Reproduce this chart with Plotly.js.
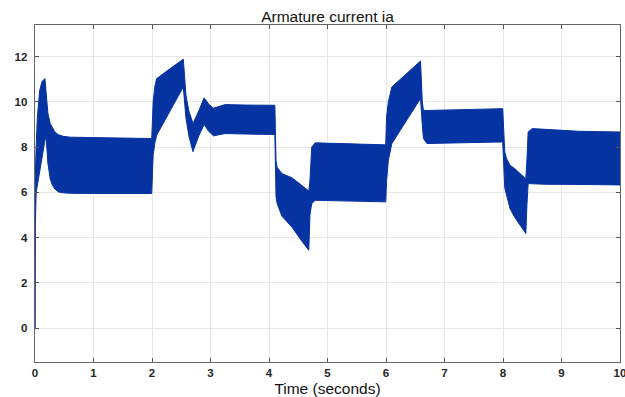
<!DOCTYPE html>
<html>
<head>
<meta charset="utf-8">
<script src="https://cdn.plot.ly/plotly-3.0.1.min.js"></script>
<style>html,body{margin:0;padding:0;background:#fff;}#chart{width:625px;height:397px;}</style>
</head>
<body>
<div id="chart"></div>
<script>
// Time (seconds)
var time = [0, 0.005, 0.02, 0.04, 0.08, 0.12, 0.17, 0.19, 0.22, 0.26, 0.3, 0.34, 0.4, 0.48, 0.6, 1.0, 1.5, 1.995,
  2.005, 2.02, 2.05, 2.08, 2.3, 2.535, 2.58, 2.63, 2.7, 2.8, 2.89, 2.97, 3.05, 3.25, 3.6, 4.1,
  4.12, 4.14, 4.22, 4.39, 4.56, 4.68, 4.7, 4.73, 4.79, 5.4, 5.995,
  6.01, 6.04, 6.1, 6.35, 6.59, 6.62, 6.64, 6.7, 7.3, 7.995,
  8.03, 8.06, 8.09, 8.12, 8.2, 8.26, 8.39, 8.41, 8.43, 8.5, 8.72, 9.3, 10];
// Upper envelope of armature current ia
var iaUpper = [0, 6.8, 8.0, 9.3, 10.5, 10.9, 11.03, 10.4, 9.5, 9.04, 8.85, 8.67, 8.55, 8.48, 8.44, 8.42, 8.4, 8.38,
  9.0, 10.0, 10.7, 11.03, 11.45, 11.89, 10.3, 9.6, 9.05, 9.6, 10.18, 9.9, 9.72, 9.88, 9.86, 9.85,
  7.4, 7.1, 6.83, 6.65, 6.31, 6.06, 6.5, 8.0, 8.19, 8.15, 8.1,
  9.34, 10.0, 10.66, 11.25, 11.81, 10.0, 9.63, 9.62, 9.66, 9.7,
  7.79, 7.5, 7.35, 7.2, 7.05, 6.9, 6.6, 7.5, 8.67, 8.82, 8.78, 8.7, 8.67];
// Lower envelope of armature current ia
var iaLower = [0, 4.5, 6.0, 6.3, 7.0, 7.6, 8.3, 8.45, 7.3, 6.6, 6.3, 6.15, 6.02, 5.98, 5.96, 5.95, 5.95, 5.95,
  6.6, 7.64, 8.2, 8.53, 9.56, 10.66, 9.3, 8.5, 7.8, 8.5, 9.0, 8.7, 8.5, 8.6, 8.58, 8.56,
  5.8, 5.5, 4.95, 4.47, 3.85, 3.44, 5.0, 5.5, 5.65, 5.6, 5.58,
  6.5, 7.42, 8.16, 9.2, 10.15, 9.0, 8.38, 8.16, 8.2, 8.23,
  6.2, 5.87, 5.55, 5.28, 4.9, 4.69, 4.18, 5.5, 6.39, 6.38, 6.36, 6.35, 6.33];
var xTicks = [0, 1, 2, 3, 4, 5, 6, 7, 8, 9, 10];
var yTicks = [0, 2, 4, 6, 8, 10, 12];

var bandColor = '#0533a2';
var traces = [
  {x: time, y: iaLower, type: 'scatter', mode: 'lines', line: {color: bandColor, width: 1}, hoverinfo: 'skip'},
  {x: time, y: iaUpper, type: 'scatter', mode: 'lines', fill: 'tonexty', fillcolor: bandColor,
   line: {color: bandColor, width: 1}, hoverinfo: 'skip'}
];
var tickFont = {family: 'Liberation Sans, Arial, sans-serif', size: 11.5, color: '#262626', weight: 'bold'};
var titleFontFamily = 'Liberation Sans, Arial, sans-serif';
var layout = {
  width: 625, height: 397,
  margin: {l: 35, r: 5, t: 25, b: 35},
  paper_bgcolor: '#ffffff', plot_bgcolor: '#ffffff',
  showlegend: false,
  title: {text: 'Armature current ia', x: 0.5, xref: 'paper', xanchor: 'center',
          y: 1 - 16.5 / 397, yref: 'container', yanchor: 'middle',
          font: {family: titleFontFamily, size: 15.5, color: '#111'}},
  xaxis: {range: [0, 10], tickvals: xTicks, ticktext: xTicks.map(String), ticks: 'inside', ticklen: 4,
          tickcolor: '#555', showline: true, mirror: 'ticks', linecolor: '#666', linewidth: 1.3,
          showgrid: true, gridcolor: '#e8e8e8', zeroline: false, tickfont: tickFont,
          ticklabeloverflow: 'allow',
          title: {text: 'Time (seconds)', standoff: 7,
                  font: {family: titleFontFamily, size: 15.5, color: '#111'}}},
  yaxis: {range: [-1.5, 13.4], tickvals: yTicks, ticktext: yTicks.map(String), ticks: 'inside', ticklen: 4,
          tickcolor: '#555', showline: true, mirror: 'ticks', linecolor: '#666', linewidth: 1.3,
          showgrid: true, gridcolor: '#e8e8e8', zeroline: false, tickfont: tickFont, ticklabelstandoff: 4}
};
Plotly.newPlot('chart', traces, layout, {displayModeBar: false, staticPlot: true});
</script>
</body>
</html>
